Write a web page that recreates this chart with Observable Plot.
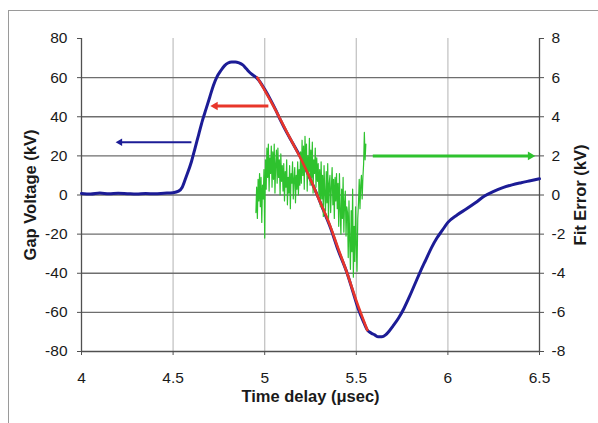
<!DOCTYPE html>
<html>
<head>
<meta charset="utf-8">
<script src="https://cdn.jsdelivr.net/npm/d3@7"></script>
<script src="https://cdn.jsdelivr.net/npm/@observablehq/plot@0.6"></script>
<style>
  html, body { margin: 0; padding: 0; background: #fff; }
  #wrap { position: relative; width: 598px; height: 423px; overflow: hidden; }
  #frame { position: absolute; left: 8px; top: 10px; width: 620px; height: 440px; border: 1px solid #9a9a9a; box-sizing: border-box; }
  #chart { position: absolute; left: 0; top: 0; }
  #chart svg g[aria-label$="axis label"] text { font-weight: bold; font-size: 16.5px; }
</style>
</head>
<body>
<div id="wrap"><div id="frame"></div><div id="chart"></div></div>
<script>
// Gap voltage (kV) vs time delay (µs)
const gapT = [4.00,4.05,4.10,4.15,4.20,4.25,4.30,4.35,4.40,4.45,4.50,4.53,4.55,4.57,4.60,4.62,4.64,4.66,4.68,4.70,4.72,4.74,4.76,4.78,4.80,4.82,4.84,4.86,4.88,4.90,4.92,4.94,4.96,5.00,5.03,5.06,5.09,5.12,5.15,5.18,5.20,5.24,5.27,5.30,5.33,5.36,5.40,5.45,5.48,5.51,5.54,5.56,5.58,5.60,5.62,5.64,5.66,5.68,5.70,5.73,5.76,5.79,5.82,5.85,5.88,5.91,5.94,5.97,6.00,6.05,6.10,6.15,6.20,6.25,6.30,6.35,6.40,6.45,6.50];
const gapV = [0.8,0.5,1.0,0.6,0.9,0.7,0.5,0.8,0.6,0.9,1.2,2.0,4,9,17,24,31,38,44,50,56,60.5,63.5,66,67.5,68,68,67.5,66.5,64.5,62.5,61,59.5,54,49,43.5,37.5,32,27,22,18.5,10,3.6,-3,-10,-17,-28,-40,-49,-58,-65,-69,-70.5,-71.5,-72.5,-72.5,-71.5,-69.5,-67,-63,-58,-52,-45.5,-39,-33,-27,-22,-18,-14,-10.2,-7.2,-4,-0.5,1.9,3.8,5.2,6.3,7.3,8.3];

// Fit (red)
const fitT = [4.96,5.00,5.05,5.10,5.15,5.20,5.25,5.30,5.35,5.40,5.45,5.50,5.56];
const fitV = [60,53.5,45,36,27,18,8,-3,-14,-27,-40,-54,-69];

// Fit error (kV, right axis), sampled from errStart every errStep µs
const errStart = 4.952;
const errStep = 0.004;
const errValues = [
  -0.9,0.4,-1.2,0.8,-0.3,1.1,-0.6,0.9,-1.4,0.5,-0.2,1.3,
  -2.2,
  1.8,0.3,2.4,0.9,2.6,0.2,1.9,1.1,2.5,0.4,2.2,0.8,2.6,0.1,1.6,2.3,0.6,2.4,0.9,1.8,0.0,2.1,0.7,1.5,
  0.2,1.6,-0.3,1.2,0.4,1.8,-0.5,0.9,0.1,1.5,-0.7,1.1,0.6,1.7,-0.2,0.8,1.4,-0.4,1.0,0.3,1.7,0.0,1.3,0.5,
  2.2,0.6,2.8,1.0,2.5,0.3,3.0,1.4,2.6,0.2,2.0,1.2,2.9,0.5,2.3,0.9,2.7,0.1,1.8,1.1,2.4,0.4,1.9,0.7,1.6,0.0,
  1.3,-0.6,1.7,-0.2,1.0,-1.1,1.5,0.1,-0.8,1.2,-0.4,1.6,-1.3,0.6,1.0,-0.9,0.4,1.4,-0.5,0.8,-1.2,0.9,-0.3,1.1,-0.7,
  0.6,-1.6,1.1,-0.8,-2.0,0.3,-1.2,0.9,-1.9,-0.4,0.2,-2.1,-0.6,
  -0.9,-3.2,-0.3,-2.4,-3.8,-0.8,-2.9,0.3,-4.2,-1.6,-3.4,-0.6,-2.6,-3.9,-1.2,
  -0.4,0.8,-0.7,0.5,1.0,-0.2,
  0.9,1.6,3.2,1.8,2.6
];

// Axis ticks
const xTicks = [4, 4.5, 5, 5.5, 6, 6.5];
const leftTicks = [-80, -60, -40, -20, 0, 20, 40, 60, 80];
const rightTicks = [-8, -6, -4, -2, 0, 2, 4, 6, 8];
const errScale = 10; // 1 kV of error on right axis = 10 kV on left axis

// Arrows: [from time, to time, level (left-axis kV)]
const arrowFrom = [4.60, 5.02, 5.59];
const arrowTo   = [4.21, 4.73, 6.45];
const arrowLevel = [27, 45.5, 20];
const arrowSeries = ["gap", "fit", "err"];

const colors = {gap: "#1c1c96", fit: "#e8362a", err: "#2ec22e"};

const gap = gapT.map((t, i) => ({t, v: gapV[i]}));
const fit = fitT.map((t, i) => ({t, v: fitV[i]}));
const err = errValues.map((e, i) => ({t: errStart + i * errStep, e}));
const arrows = arrowFrom.map((x1, i) => ({x1, x2: arrowTo[i], y: arrowLevel[i], s: arrowSeries[i]}));

const plot = Plot.plot({
  width: 598,
  height: 423,
  marginLeft: 81,
  marginRight: 59,
  marginTop: 38,
  marginBottom: 72,
  style: {fontFamily: "'Liberation Sans', Arial, sans-serif", fontSize: "15.5px", background: "transparent", color: "#1a1a1a"},
  x: {domain: [4, 6.5]},
  y: {domain: [-80, 80]},
  marks: [
    Plot.ruleX(xTicks.filter(d => d > 4 && d < 6.5), {stroke: "#c4c4c4", strokeWidth: 1.3}),
    Plot.ruleY(leftTicks.filter(d => d > -80 && d < 80), {stroke: "#6e6e6e", strokeWidth: 1.3}),
    Plot.ruleY([-80], {stroke: "#505050", strokeWidth: 1.3}),
    Plot.ruleX([4, 6.5], {stroke: "#505050", strokeWidth: 1.3}),
    Plot.axisX({ticks: xTicks, tickSize: 4, tickPadding: 16, tickFormat: d => String(d), label: "Time delay (μsec)", labelAnchor: "center", labelArrow: "none", labelOffset: 50, stroke: "#505050"}),
    Plot.axisY({anchor: "left", ticks: leftTicks, tickSize: 4, tickPadding: 10, tickFormat: d => String(d), label: "Gap Voltage (kV)", labelAnchor: "center", labelArrow: "none", labelOffset: 57, stroke: "#505050"}),
    Plot.axisY({anchor: "right", ticks: rightTicks.map(d => d * errScale), tickSize: 4, tickPadding: 8, tickFormat: d => String(d / errScale), label: "Fit Error (kV)", labelAnchor: "center", labelArrow: "none", labelOffset: 46, stroke: "#505050"}),
    Plot.line(gap, {x: "t", y: "v", stroke: colors.gap, strokeWidth: 3, curve: "monotone-x"}),
    Plot.line(err, {x: "t", y: d => d.e * errScale, stroke: colors.err, strokeWidth: 1.2}),
    Plot.line(fit, {x: "t", y: "v", stroke: colors.fit, strokeWidth: 2.6, curve: "monotone-x"}),
    Plot.link(arrows, {x1: "x1", x2: "x2", y1: "y", y2: "y", stroke: d => colors[d.s], strokeWidth: d => d.s === "gap" ? 2 : 3}),
    Plot.dot(arrows, {x: "x2", y: "y", symbol: "triangle", r: d => d.s === "gap" ? 3.5 : 4.5, fill: d => colors[d.s], stroke: "none", rotate: d => d.x2 > d.x1 ? 90 : -90})
  ]
});
document.getElementById("chart").appendChild(plot);
</script>
</body>
</html>
